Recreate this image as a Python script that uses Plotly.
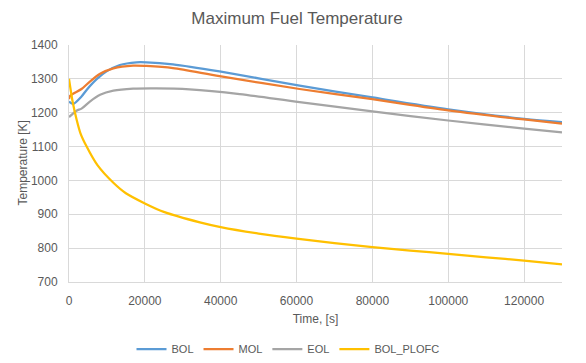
import plotly.graph_objects as go

t_bol = [0, 1100, 3300, 4700, 7300, 9900, 13400, 17800, 20400, 27400, 39700, 60800, 80000, 100000, 120000, 130000]
bol = [1233, 1226, 1248, 1268, 1299, 1322, 1341, 1349, 1349, 1343, 1322, 1280, 1245, 1210, 1182, 1172]

t_mol = [0, 300, 3300, 5500, 8200, 11700, 16900, 20400, 27400, 39700, 60800, 80000, 100000, 120000, 130000]
mol = [1240, 1250, 1270, 1292, 1315, 1331, 1339, 1338, 1332, 1308, 1270, 1240, 1207, 1180, 1168]

t_eol = [0, 2000, 3300, 5500, 8200, 11700, 16900, 23000, 31800, 45000, 60800, 80000, 100000, 120000, 130000]
eol = [1187, 1206, 1212, 1233, 1253, 1265, 1271, 1272, 1269, 1255, 1231, 1204, 1177, 1153, 1142]

t_plofc = [0, 1000, 2000, 3000, 4650, 7500, 11700, 15000, 20000, 25000, 34500, 40000, 50000, 60000, 70000, 80000, 90000, 100000, 110000, 120000, 130000]
plofc = [1300, 1230, 1180, 1140, 1100, 1045, 993, 962, 932, 907, 876, 862, 843, 828, 815, 803, 793, 783, 773, 763, 752]

names = ["BOL", "MOL", "EOL", "BOL_PLOFC"]
colors = ["#5B9BD5", "#ED7D31", "#A5A5A5", "#FFC000"]
xs = [t_bol, t_mol, t_eol, t_plofc]
ys = [bol, mol, eol, plofc]

fig = go.Figure()
for n, c, x, y in zip(names, colors, xs, ys):
    fig.add_trace(go.Scatter(x=x, y=y, name=n, mode="lines",
                             line=dict(color=c, width=2.25, shape="spline", smoothing=0.8)))

W, H = 578, 355  # page body has an 8px margin
font = "Liberation Sans"
fig.update_layout(
    width=W, height=H,
    margin=dict(l=61, r=24, t=37, b=81, autoexpand=False),
    paper_bgcolor="white", plot_bgcolor="white",
    font=dict(family=font, color="#595959", size=12),
    title=dict(text="Maximum Fuel Temperature", x=0.5, xanchor="center",
               yref="container", y=1 - 10 / H, yanchor="middle",
               font=dict(size=17, color="#595959")),
    showlegend=True,
    legend=dict(orientation="h", xref="container", x=280 / W, xanchor="center",
                yref="container", y=1 - 341 / H, yanchor="middle",
                font=dict(size=11, color="#595959"), itemwidth=30, tracegroupgap=0),
    annotations=[dict(text="Temperature [K]", xref="paper", yref="paper", x=0, y=0.5,
                      xanchor="center", yanchor="middle", xshift=-47, textangle=-90,
                      showarrow=False, font=dict(size=12, color="#595959"))],
)
fig.update_xaxes(range=[0, 130000], tickvals=[0, 20000, 40000, 60000, 80000, 100000, 120000],
                 showgrid=True, gridcolor="#D9D9D9", gridwidth=1, automargin=False,
                 showline=True, linecolor="#D9D9D9", linewidth=1, zeroline=False,
                 ticks="", tickformat="d", ticklabelstandoff=8,
                 title=dict(text="Time, [s]", font=dict(size=12, color="#595959"), standoff=7))
fig.update_yaxes(range=[700, 1400], dtick=100,
                 showgrid=True, gridcolor="#D9D9D9", gridwidth=1, automargin=False,
                 showline=True, linecolor="#D9D9D9", linewidth=1, zeroline=False,
                 ticks="", ticklabelstandoff=8)
fig.write_html("out.html")
